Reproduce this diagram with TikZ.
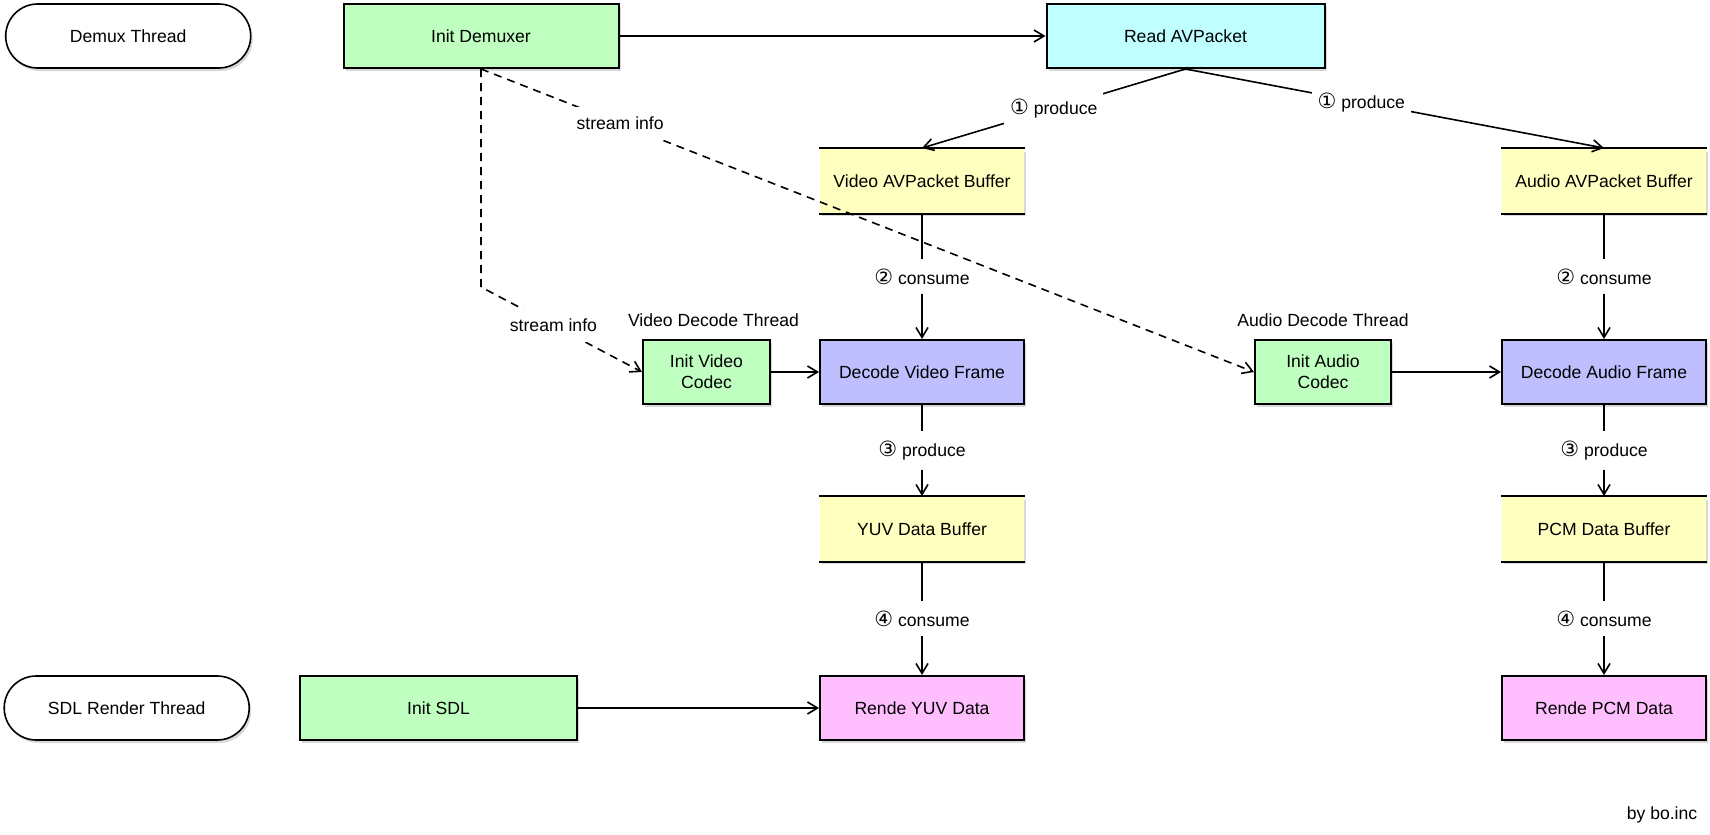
\documentclass[tikz,border=0pt]{standalone}
\usepackage{fontspec}
\setmainfont{Liberation Sans}
\newfontfamily\digitfont{DejaVu Sans}
\usetikzlibrary{arrows.meta,positioning,shadows}
\definecolor{initgreen}{RGB}{191,255,191}
\definecolor{readcyan}{RGB}{191,255,255}
\definecolor{bufyellow}{RGB}{255,255,192}
\definecolor{decblue}{RGB}{191,191,255}
\definecolor{rendpink}{RGB}{255,191,255}
\newcommand{\numc}[1]{{\digitfont\fontsize{10.5}{10}\selectfont #1}}

\begin{document}
\begin{tikzpicture}[x=0.5pt, y=-0.5pt, >={Straight Barb[length=5pt,width=6pt]}, line width=0.8pt,
  font=\fontsize{8.8}{10.5}\selectfont,
  box/.style = {rectangle, draw, line width=1pt, minimum width=102pt, minimum height=32pt, align=center, drop shadow={shadow xshift=1pt, shadow yshift=-1.5pt, opacity=0.3}},
  thread/.style = {box, fill=white, rounded corners=16pt, line width=0.8pt, minimum width=122.5pt},
  init/.style = {box, fill=initgreen},
  buffer/.style = {box, draw=none, fill=bufyellow},
  decode/.style = {box, fill=decblue},
  rende/.style = {box, fill=rendpink},
  lbl/.style = {fill=white, inner xsep=3pt, inner ysep=5pt},
  info/.style = {->, dash pattern=on 4pt off 3pt}]
	\useasboundingbox (0,0) rectangle (1710,835);
	% demux thread
	\node[init, minimum width=137.5pt] (demuxer) at (481,36) {Init Demuxer};
	\node[thread, left=45.5pt of demuxer] (demux) {Demux Thread};
	\node[box, fill=readcyan, minimum width=139pt, right=213pt of demuxer] (read) {Read AVPacket};
	\node[buffer] (vpkt) at (922,181) {Video AVPacket Buffer};
	\node[buffer, right=238pt of vpkt] (apkt) {Audio AVPacket Buffer};
	% decode threads
	\node[decode, below=62.5pt of vpkt] (vdec) {Decode Video Frame};
	\node[init, minimum width=63.5pt, left=24pt of vdec] (vcodec) {Init Video\\Codec};
	\node[above=2.5pt of vcodec, xshift=3.5pt] (vthread) {Video Decode Thread};
	\node[decode, below=62.5pt of apkt] (adec) {Decode Audio Frame};
	\node[init, minimum width=68pt, left=54.5pt of adec] (acodec) {Init Audio\\Codec};
	\node[above=2.5pt of acodec] (athread) {Audio Decode Thread};
	\node[buffer, below=45.5pt of vdec] (yuv) {YUV Data Buffer};
	\node[buffer, below=45.5pt of adec] (pcm) {PCM Data Buffer};
	% render thread
	\node[rende, below=56.5pt of yuv] (ryuv) {Rende YUV Data};
	\node[rende, below=56.5pt of pcm] (rpcm) {Rende PCM Data};
	\node[init, minimum width=138.5pt, left=120.5pt of ryuv] (sdl) {Init SDL};
	\node[thread, left=24.5pt of sdl] (sdlthread) {SDL Render Thread};
	\node (credit) at (1662,815) {by bo.inc};
	\foreach \b in {vpkt, apkt, yuv, pcm}
		\draw[line width=1pt] (\b.north west) -- (\b.north east) (\b.south west) -- (\b.south east);
	\path[->]
		(demuxer) edge (read)
		(read.south) edge node[lbl]{\numc{①} produce} (vpkt.north)
		(read.south) edge node[lbl, pos=0.42]{\numc{①} produce} (apkt.north)
		(vpkt) edge node[lbl]{\numc{②} consume} (vdec)
		(apkt) edge node[lbl]{\numc{②} consume} (adec)
		(vdec) edge node[lbl]{\numc{③} produce} (yuv)
		(adec) edge node[lbl]{\numc{③} produce} (pcm)
		(yuv) edge node[lbl]{\numc{④} consume} (ryuv)
		(pcm) edge node[lbl]{\numc{④} consume} (rpcm)
		(vcodec) edge (vdec)
		(acodec) edge (adec)
		(sdl) edge (ryuv);
	\coordinate[below=109pt of demuxer.south] (bend);
	\draw[info] (demuxer.south) -- (bend) -- node[lbl, pos=0.45]{stream info} (vcodec.west);
	\draw[info] (demuxer.south) -- node[lbl, pos=0.18]{stream info} (acodec.west);
\end{tikzpicture}
\end{document}
